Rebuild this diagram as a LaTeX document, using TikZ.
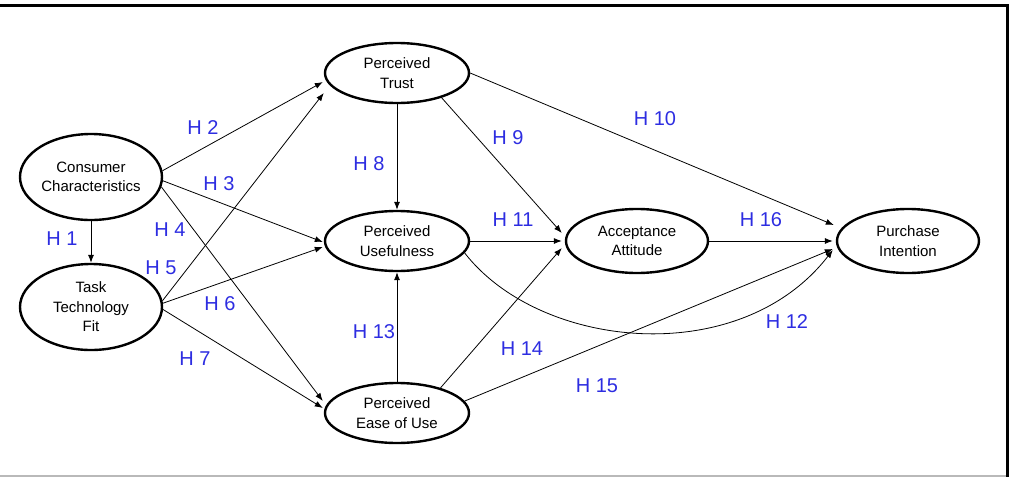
\documentclass[tikz,border=0pt]{standalone}
\usepackage{fontspec}
\setmainfont{Liberation Sans}
\usetikzlibrary{shapes.geometric,arrows.meta,calc}
\definecolor{hblue}{RGB}{45,45,225}
\definecolor{framegray}{RGB}{185,185,185}
\begin{document}
\begin{tikzpicture}[x=1pt,y=-1pt,
  ell/.style={draw, ellipse, line width=2.4pt, inner sep=0pt},
  big/.style={ell, minimum width=142pt, minimum height=86pt},
  small/.style={ell, minimum width=144pt, minimum height=60pt},
  mid/.style={ell, minimum width=142pt, minimum height=64pt},
  txt/.style={align=center, font=\fontsize{15}{19.5}\selectfont, inner sep=0pt},
  conn/.style={line width=0.8pt, -{Latex[length=8pt,width=6pt]}},
  hyp/.style={text=hblue, font=\fontsize{20}{24}\selectfont, inner sep=0pt}
]
\useasboundingbox (0,0) rectangle (1010,477);
% frame
\draw[line width=3pt] (0,5.5) -- (1007,5.5) -- (1007,477);
\draw[framegray, line width=1.5pt] (0,475.8) -- (1005.5,475.8);

% constructs
\node[big, label={[txt]center:{Consumer\\Characteristics}}] (cc) at (91,177) {};
\node[big, label={[txt]center:{Task\\Technology\\Fit}}] (ttf) at (91,307) {};
\node[small, label={[txt]center:{Perceived\\Trust}}] (pt) at (397,73) {};
\node[small, label={[txt]center:{Perceived\\Usefulness}}] (pu) at (397,241) {};
\node[small, label={[txt]center:{Perceived\\Ease of Use}}] (pe) at (397,413) {};
\node[mid, label={[txt]center:{Acceptance\\Attitude}}] (aa) at (637,241) {};
\node[mid, label={[txt]center:{Purchase\\Intention}}] (pi) at (908,241) {};

% paths
\draw[conn] (cc.south) -- (ttf.north);
\draw[conn] (cc.5) -- ($(pt.west)+(-1,9)$);
\draw[conn] (cc.357) -- ($(pu.west)+(-1,1)$);
\draw[conn] (cc.352) -- ($(pe.west)+(-1,-12)$);
\draw[conn] (ttf.5) -- ($(pt.west)+(0,20)$);
\draw[conn] (ttf.3) -- ($(pu.west)+(-1,6)$);
\draw[conn] (ttf.358) -- ($(pe.west)+(-1,-5)$);
\draw[conn] (pt.south) -- (pu.north);
\draw[conn] (pt.331) -- ($(aa.west)+(-3,-8)$);
\draw[conn] (pt.east) -- ($(pi.west)+(-2,-16)$);
\draw[conn] (pu.east) -- ($(aa.west)+(-3,0)$);
\draw[conn] (pu.350) .. controls (540,350) and (740,370) .. ($(pi.west)+(-3,9)$);
\draw[conn] (pe.north) -- (pu.south);
\draw[conn] (pe.30) -- ($(aa.west)+(-3,7)$);
\draw[conn] (pe.10) -- ($(pi.west)+(-3,8)$);
\draw[conn] (aa.east) -- ($(pi.west)+(-3,0)$);

% hypothesis labels
\node[hyp] (h1) at (62,239) {H 1};
\node[hyp] (h2) at (203,128) {H 2};
\node[hyp] (h3) at (219,184) {H 3};
\node[hyp] (h4) at (170,230) {H 4};
\node[hyp] (h5) at (161,268) {H 5};
\node[hyp] (h6) at (220,304) {H 6};
\node[hyp] (h7) at (195,359) {H 7};
\node[hyp] (h8) at (369,164) {H 8};
\node[hyp] (h9) at (508,138) {H 9};
\node[hyp] (h10) at (655,119) {H 10};
\node[hyp] (h11) at (513,220) {H 11};
\node[hyp] (h12) at (787,322) {H 12};
\node[hyp] (h13) at (374,332) {H 13};
\node[hyp] (h14) at (522,349) {H 14};
\node[hyp] (h15) at (597,386) {H 15};
\node[hyp] (h16) at (761,220) {H 16};
\end{tikzpicture}
\end{document}
